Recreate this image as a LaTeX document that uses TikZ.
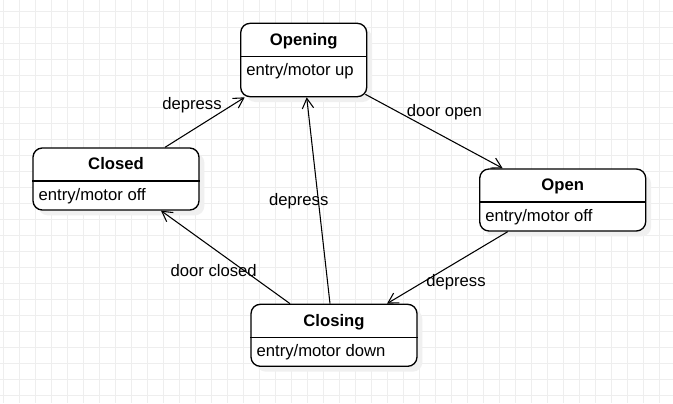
\documentclass[tikz,border=0pt]{standalone}
\usepackage{fontspec}
\setmainfont{Liberation Sans}
\usetikzlibrary{positioning,calc,shadows,arrows.meta}
\definecolor{gridGray}{RGB}{238,238,238}
\tikzset{
  gridLine/.style={draw=gridGray, line width=0.8pt},
  stateBox/.style={rectangle, draw=black, line width=1pt, rounded corners=7pt, fill=white, inner sep=0pt,
    minimum width=124.5pt, minimum height=46.5pt,
    drop shadow={shadow xshift=4pt, shadow yshift=-4pt, fill=black!6, opacity=1}},
  stateTitle/.style={font=\fontsize{12.5}{15}\selectfont\bfseries, inner sep=0pt, minimum height=24.75pt,
    text height=9pt, text depth=0.5pt},
  stateEntry/.style={font=\fontsize{12.5}{15}\selectfont, inner sep=0pt, anchor=west},
  divider/.style={line width=1pt},
  transition/.style={-{Straight Barb[length=7.5pt, width=8.5pt]}, line width=0.8pt},
  transLabel/.style={font=\fontsize{12.5}{15}\selectfont, inner sep=1pt}
}
\begin{document}
\begin{tikzpicture}[x=0.75pt, y=-0.75pt]
\fill[white] (0,0) rectangle (673,403);
\useasboundingbox (0,0) rectangle (673,403);
\foreach \gx in {0,...,41} \draw[gridLine] (3.3+16*\gx,0) -- (3.3+16*\gx,403);
\foreach \gy in {0,...,24} \draw[gridLine] (0,11.3+16*\gy) -- (673,11.3+16*\gy);

\node[stateBox, minimum width=94.5pt, minimum height=55pt](openingBox) at (303.7,60){};
	\node[stateTitle, below=0pt of openingBox.north](openingTitle){Opening};
	\draw[divider] (openingBox.west |- openingTitle.south) -- (openingBox.east |- openingTitle.south);
	\node[stateEntry](openingEntry) at ($(openingBox.west |- openingTitle.south)+(6,15)$){entry/motor up};

\node[stateBox](closedBox) at (116,179){};
	\node[stateTitle, below=0pt of closedBox.north](closedTitle){Closed};
	\draw[divider] (closedBox.west |- closedTitle.south) -- (closedBox.east |- closedTitle.south);
	\node[stateEntry](closedEntry) at ($(closedBox.west |- closedTitle.south)+(6,15)$){entry/motor off};

\node[stateBox](openBox) at (562.7,200){};
	\node[stateTitle, below=0pt of openBox.north](openTitle){Open};
	\draw[divider] (openBox.west |- openTitle.south) -- (openBox.east |- openTitle.south);
	\node[stateEntry](openEntry) at ($(openBox.west |- openTitle.south)+(6,15)$){entry/motor off};

\node[stateBox](closingBox) at (334,335.3){};
	\node[stateTitle, below=0pt of closingBox.north](closingTitle){Closing};
	\draw[divider] (closingBox.west |- closingTitle.south) -- (closingBox.east |- closingTitle.south);
	\node[stateEntry](closingEntry) at ($(closingBox.west |- closingTitle.south)+(6,15)$){entry/motor down};

	\draw[transition] ($(closedBox.north)+(49,0)$) -- ($(openingBox.south)+(-59,0)$);
	\draw[transition] ($(openingBox.south east)+(-2,-3)$) -- ($(openBox.north)+(-60,0)$);
	\draw[transition] ($(openBox.south)+(-55,0)$) -- ($(closingBox.north)+(53,0)$);
	\draw[transition] ($(closingBox.north)+(-4,0)$) -- ($(openingBox.south)+(3,0)$);
	\draw[transition] ($(closingBox.north)+(-44,0)$) -- ($(closedBox.south)+(45,0)$);

	\node[transLabel](depressLabelA) at (192,105){depress};
	\node[transLabel](doorOpenLabel) at (444.5,111.7){door open};
	\node[transLabel](depressLabelB) at (456,282){depress};
	\node[transLabel](depressLabelC) at (298.7,201.5){depress};
	\node[transLabel](doorClosedLabel) at (213.7,271){door closed};
\end{tikzpicture}
\end{document}
